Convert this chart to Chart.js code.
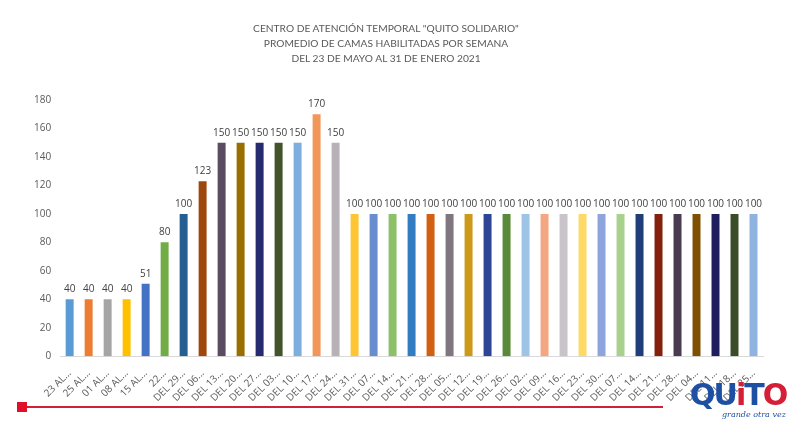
<!DOCTYPE html>
<html>
<head>
<meta charset="utf-8">
<script src="https://cdn.jsdelivr.net/npm/chart.js@4"></script>
<style>
    body { margin: 0; background: #fff; }
    #wrap { position: relative; width: 800px; height: 445px; overflow: hidden; }
    #titulo { position: absolute; left: 186px; top: 21px; width: 400px; text-align: center; font-family: Lato, sans-serif; font-size: 10.2px; line-height: 15px; color: #595959; }
    #bar-line { position: absolute; left: 22px; top: 406px; width: 641px; height: 2px; background: #d0213a; }
    #bar-knob { position: absolute; left: 17px; top: 402px; width: 10px; height: 10px; background: #e0102a; }
    #logo { position: absolute; left: 690px; top: 380px; font-family: 'DejaVu Sans', sans-serif; font-weight: bold; font-size: 30px; letter-spacing: -2px; line-height: 30px; }
    #logo .b { color: #1d4fa3; }
    #logo .r { color: #d41f36; }
    #tagline { position: absolute; left: 722px; top: 410px; font-family: 'DejaVu Serif', serif; font-style: italic; font-size: 8px; color: #1d4fa3; }
</style>
</head>
<body>
<div id="wrap">
    <canvas id="camas-chart" width="800" height="445"></canvas>
    <div id="titulo"></div>
    <div id="bar-line"></div>
    <div id="bar-knob"></div>
    <div id="logo"><span class="b">QU</span><span class="r">i</span><span class="b">T</span><span class="r">O</span></div>
    <div id="tagline">grande otra vez</div>
</div>
<script>
// Semanas (etiquetas tal como aparecen, truncadas)
const semanas = [
    '23 AL...', '25 AL...', '01 AL...', '08 AL...', '15 AL...', '22...',
    'DEL 29...', 'DEL 06...', 'DEL 13...', 'DEL 20...', 'DEL 27...', 'DEL 03...',
    'DEL 10...', 'DEL 17...', 'DEL 24...', 'DEL 31...', 'DEL 07...', 'DEL 14...',
    'DEL 21...', 'DEL 28...', 'DEL 05...', 'DEL 12...', 'DEL 19...', 'DEL 26...',
    'DEL 02...', 'DEL 09...', 'DEL 16...', 'DEL 23...', 'DEL 30...', 'DEL 07...',
    'DEL 14...', 'DEL 21...', 'DEL 28...', 'DEL 04...', 'DEL 11...', 'DEL 18...',
    'DEL 25...'
];

// Promedio de camas habilitadas
const camas = [
    40, 40, 40, 40, 51, 80, 100, 123, 150, 150, 150, 150, 150, 170, 150,
    100, 100, 100, 100, 100, 100, 100, 100, 100, 100, 100,
    100, 100, 100, 100, 100, 100, 100, 100, 100, 100, 100
];

// Un color por barra (paleta de Office)
const colores = [
    '#5b9bd5', '#ed7d31', '#a5a5a5', '#ffc000', '#4472c4', '#70ad47',
    '#255e91', '#9e480e', '#5a4d62', '#996f00', '#262a6e', '#43532b',
    '#7cafdd', '#f1975a', '#b7b1b8', '#ffc533', '#698ed0', '#8cc168',
    '#327dc2', '#d26012', '#7f7680', '#cc9a18', '#2e4596', '#5a8a39',
    '#9dc3e6', '#f4a582', '#c9c4c9', '#ffd966', '#8fa3dc', '#a9d18e',
    '#1f3d79', '#84210c', '#4a3c50', '#7f5000', '#1e1e5e', '#3b4d28',
    '#8fb3e0'
];

const yTicks = [0, 20, 40, 60, 80, 100, 120, 140, 160, 180];

const titulo = [
    'CENTRO DE ATENCIÓN TEMPORAL "QUITO SOLIDARIO"',
    'PROMEDIO DE CAMAS HABILITADAS POR SEMANA',
    'DEL 23 DE MAYO AL 31 DE ENERO 2021'
];

// El título va como texto HTML, centrado igual que en la diapositiva
const tituloDiv = document.getElementById('titulo');
titulo.forEach(linea => {
    const d = document.createElement('div');
    d.textContent = linea;
    tituloDiv.appendChild(d);
});

// Etiquetas de valor encima de cada barra
const valoresPlugin = {
    id: 'valores',
    afterDatasetsDraw(chart) {
        const ctx = chart.ctx;
        const meta = chart.getDatasetMeta(0);
        ctx.save();
        ctx.font = '10px "Open Sans", sans-serif';
        ctx.fillStyle = '#404040';
        ctx.textAlign = 'center';
        ctx.textBaseline = 'bottom';
        meta.data.forEach((bar, i) => {
            ctx.fillText(chart.data.datasets[0].data[i], bar.x, bar.y - 5);
        });
        ctx.restore();
    }
};

new Chart(document.getElementById('camas-chart'), {
    type: 'bar',
    data: {
        labels: semanas,
        datasets: [{
            data: camas,
            backgroundColor: colores,
            barPercentage: 0.6,
            categoryPercentage: 0.7
        }]
    },
    options: {
        responsive: false,
        animation: false,
        layout: { padding: { left: 33, right: 37, top: 100, bottom: 38 } },
        plugins: {
            legend: { display: false },
            tooltip: { enabled: false },
            title: { display: false }
        },
        scales: {
            y: {
                min: 0,
                max: 180,
                afterBuildTicks: axis => { axis.ticks = yTicks.map(v => ({ value: v })); },
                grid: { display: false },
                border: { display: false },
                ticks: { color: '#595959', font: { family: 'Open Sans', size: 10 }, padding: 1 }
            },
            x: {
                grid: { display: false },
                border: { color: '#d9d9d9' },
                ticks: {
                    color: '#595959',
                    font: { family: 'Open Sans', size: 10 },
                    minRotation: 45,
                    maxRotation: 45,
                    autoSkip: false
                }
            }
        }
    },
    plugins: [valoresPlugin]
});
</script>
</body>
</html>
